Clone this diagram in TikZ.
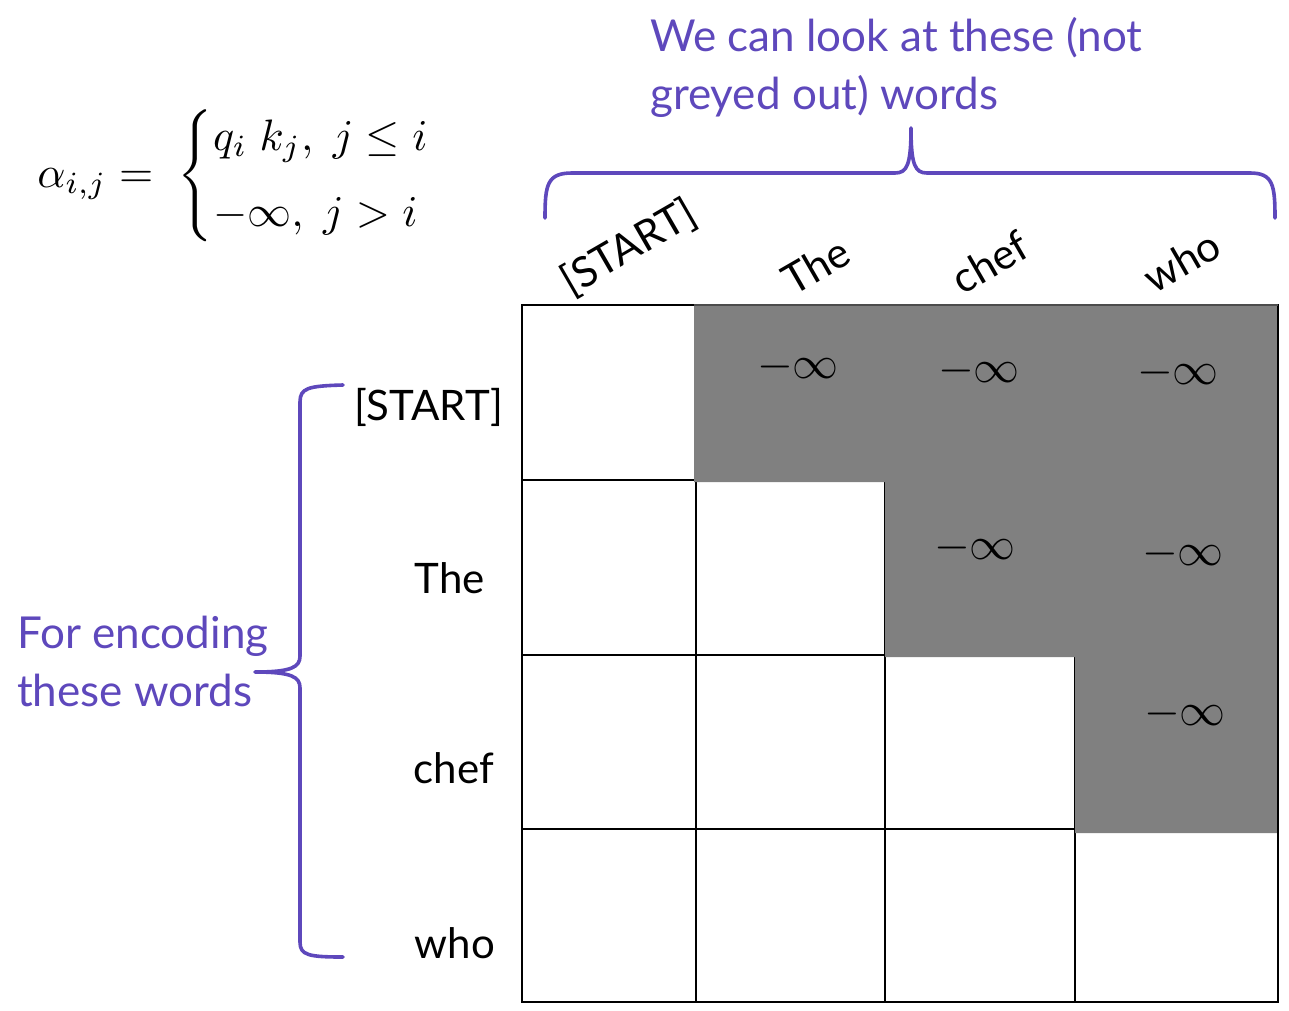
\documentclass[tikz,border=0pt]{standalone}
\usepackage{amsmath}
\usepackage{fontspec}
\setmainfont{Lato}
\definecolor{purp}{HTML}{5E48BC}
\definecolor{maskgrey}{HTML}{808080}
\tikzset{
  lbl/.style={font=\fontsize{42}{50}\selectfont, inner sep=0pt},
  collbl/.style={lbl, rotate=30},
  note/.style={font=\fontsize{44}{58}\selectfont, text=purp, align=left, inner sep=0pt},
  brace/.style={draw=purp, line width=3.6pt, line cap=round, line join=round},
  grid/.style={draw=black, line width=1.3pt},
  minf/.style={scale=4.6, inner sep=0pt}
}
\begin{document}
\begin{tikzpicture}[x=1pt,y=-1pt]
\useasboundingbox (0,0) rectangle (1289,1010);
% grid
\draw[grid] (522,305) rectangle (1278,1002);
\foreach \xx in {696,885,1075} \draw[grid] (\xx,305) -- (\xx,1002);
\foreach \yy in {480,655,829} \draw[grid] (522,\yy) -- (1278,\yy);
% mask
\fill[maskgrey] (694,305) -- (1278,305) -- (1278,833) -- (1075,833) -- (1075,657) -- (885,657) -- (885,482) -- (694,482) -- cycle;
\draw[black, line width=1.3pt] (1278,305) -- (1278,1002);
\draw[black!70, line width=1.3pt] (694,305) -- (1278,305);
% -inf entries
\node[minf] (m12) at (798,367) {$-\infty$};
\node[minf] (m13) at (979,371) {$-\infty$};
\node[minf] (m14) at (1178,373) {$-\infty$};
\node[minf] (m23) at (975,548) {$-\infty$};
\node[minf] (m24) at (1183,554) {$-\infty$};
\node[minf] (m34) at (1185,714) {$-\infty$};
% row labels
\node[lbl, anchor=east] (r1) at (503,407) {[START]};
\node[lbl, anchor=east] (r2) at (485,578) {The};
\node[lbl, anchor=east] (r3) at (494,768) {chef};
\node[lbl, anchor=east] (r4) at (495,943) {who};
% column labels
\node[collbl] (c1) at (629,248) {[START]};
\node[collbl] (c2) at (816,266) {The};
\node[collbl] (c3) at (990,262) {chef};
\node[collbl] (c4) at (1182,261) {who};
% braces
\draw[brace] (545,218) .. controls (545,185) and (547,173) .. (572,173) -- (895,173)
  .. controls (907,173) and (911,165) .. (911,128)
  .. controls (911,165) and (915,173) .. (927,173) -- (1250,173)
  .. controls (1273,173) and (1275,185) .. (1275,218);
\draw[brace] (343,385) .. controls (308,386) and (300,388) .. (300,402) -- (300,656)
  .. controls (300,667) and (292,672) .. (255,672)
  .. controls (292,672) and (300,677) .. (300,688) -- (300,942)
  .. controls (300,955) and (308,957) .. (343,957);
% notes
\node[note, anchor=north west] (topnote) at (650,17) {We can look at these (not\\greyed out) words};
\node[note, anchor=north west] (leftnote) at (17,616) {For encoding\\these words};
% formula
\node[inner sep=0pt, scale=4.4] (formula) at (257,176) {%
  $\alpha_{i,j} = \;\begin{cases} q_i\;k_j,\; j \le i\\[3pt] -\infty,\; j > i\end{cases}$};
\end{tikzpicture}
\end{document}
